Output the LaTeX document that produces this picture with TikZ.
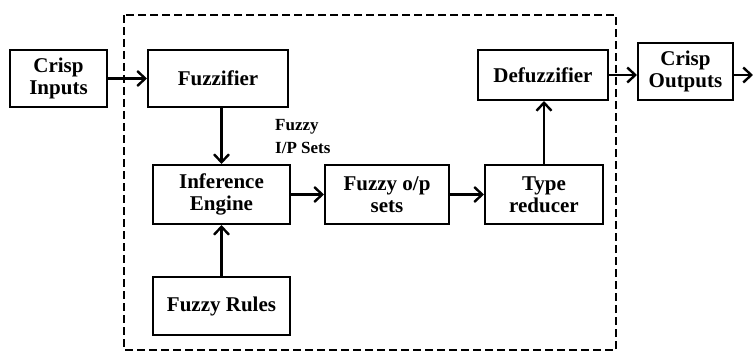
\documentclass[tikz,border=0pt]{standalone}
\usepackage{fontspec}
\setmainfont{Liberation Serif}
\usetikzlibrary{arrows.meta}
\begin{document}
\begin{tikzpicture}[x=1pt,y=-1pt,
 blk/.style={draw, line width=2pt, align=center, font=\bfseries\fontsize{21}{22}\selectfont, inner sep=0pt},
 lbl/.style={align=left, font=\bfseries\fontsize{17}{23}\selectfont, inner sep=0pt},
 arr/.style={line width=2.6pt, -{Straight Barb[length=8pt,width=15pt,line width=2.4pt]}},
 dbox/.style={line width=2.8pt, dash pattern=on 8pt off 4pt}]
\useasboundingbox (0,0) rectangle (753,353);
\draw[dbox] (124,15) rectangle (616,350);
\node[blk, minimum width=97pt, minimum height=57pt] (ci) at (58.5,78.5) {Crisp\\Inputs};
\node[blk, minimum width=140pt, minimum height=57pt] (fz) at (218,78.5) {Fuzzifier};
\node[blk, minimum width=130pt, minimum height=50pt] (dfz) at (543,75) {Defuzzifier};
\node[blk, minimum width=95pt, minimum height=57pt] (co) at (685.5,71.5) {Crisp\\Outputs};
\node[blk, minimum width=137pt, minimum height=59pt] (ie) at (221.5,194.5) {Inference\\Engine};
\node[blk, minimum width=124pt, minimum height=59pt] (fo) at (387,194.5) {Fuzzy o/p\\sets};
\node[blk, minimum width=118pt, minimum height=59pt] (tr) at (544,194.5) {Type\\reducer};
\node[blk, minimum width=137pt, minimum height=58pt] (fr) at (221.5,306) {Fuzzy Rules};
\node[lbl, anchor=west] (fis) at (275,137) {Fuzzy\\I/P Sets};
\coordinate (out) at (753,75);
\draw[arr] (ci.east) -- (fz.west);
\draw[arr] (dfz.east) -- (dfz.east -| co.west);
\draw[arr] (co.east |- out) -- (out);
\draw[arr] (ie.north |- fz.south) -- (ie.north);
\draw[arr] (fr.north) -- (ie.south);
\draw[arr] (ie.east) -- (fo.west);
\draw[arr] (fo.east) -- (tr.west);
\draw[arr] (tr.north) -- (tr.north |- dfz.south);
\end{tikzpicture}
\end{document}
